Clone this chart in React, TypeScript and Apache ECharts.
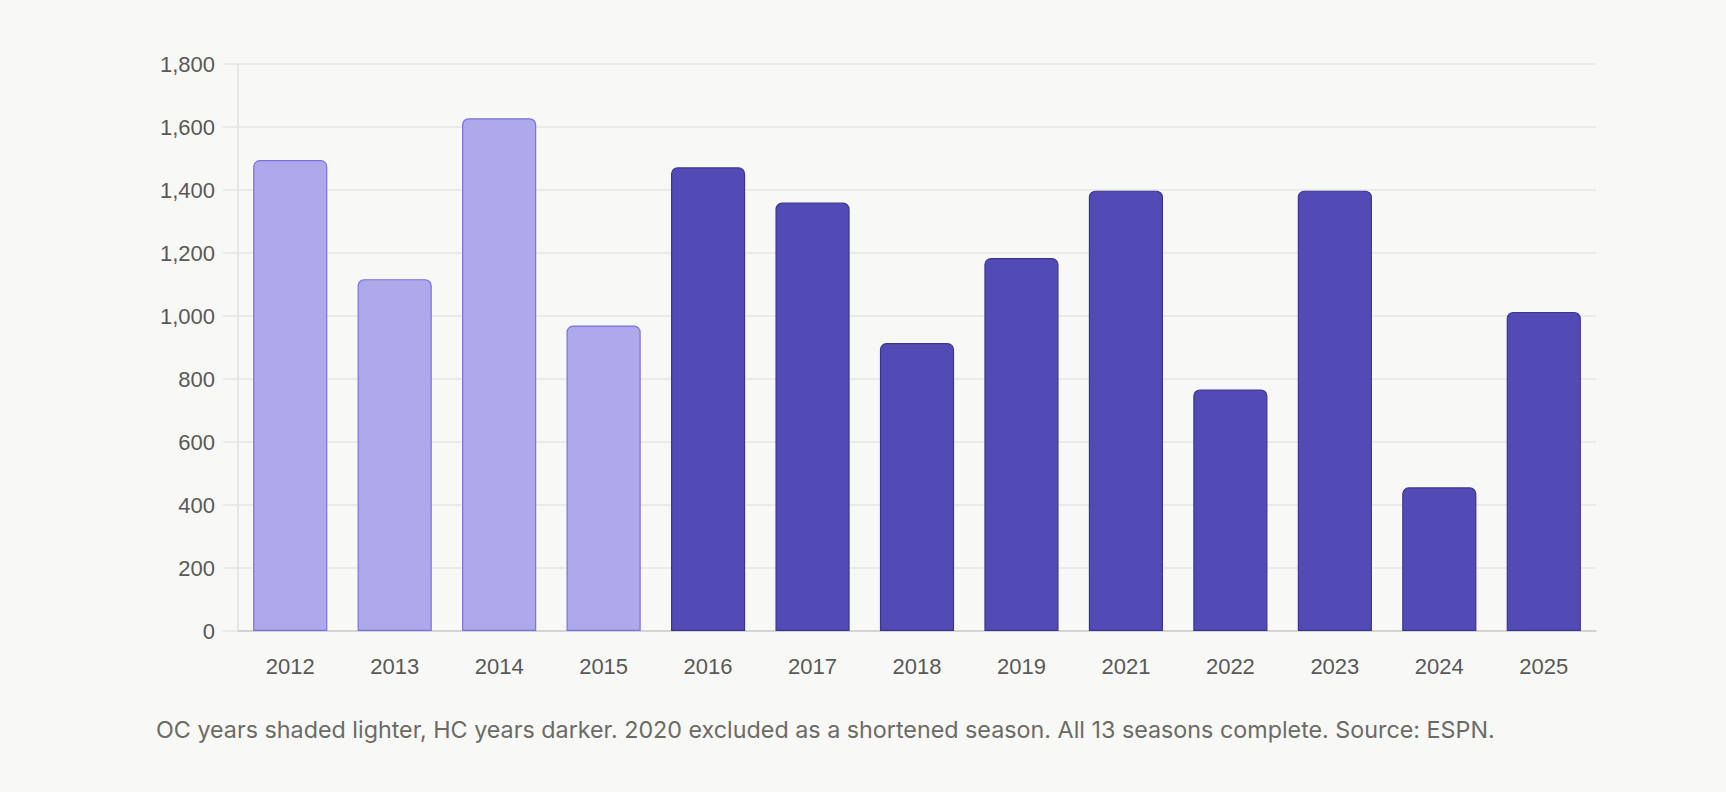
import React, { useEffect, useRef } from "react";
import * as echarts from "echarts";

const seasons = ["2012", "2013", "2014", "2015", "2016", "2017", "2018", "2019", "2021", "2022", "2023", "2024", "2025"];
const roles = ["OC", "OC", "OC", "OC", "HC", "HC", "HC", "HC", "HC", "HC", "HC", "HC", "HC"];
const yards = [1495, 1117, 1628, 970, 1472, 1360, 914, 1184, 1398, 767, 1398, 456, 1013];
const yTicks = [0, 200, 400, 600, 800, 1000, 1200, 1400, 1600, 1800];
const footnote =
  "OC years shaded lighter, HC years darker. 2020 excluded as a shortened season. All 13 seasons complete. Source: ESPN.";

const AXIS_FONT = "'Liberation Sans', Arial, Helvetica, sans-serif";
const NOTE_FONT = "Inter, 'Noto Sans', sans-serif";

export default function App() {
  const ref = useRef<HTMLDivElement>(null);
  useEffect(() => {
    if (!ref.current) return;
    const chart = echarts.init(ref.current, null, { renderer: "svg" });
    chart.setOption({
      animation: false,
      backgroundColor: "#f8f8f6",
      textStyle: { fontFamily: AXIS_FONT },
      grid: { left: 238, right: 130, top: 64, bottom: 161, containLabel: false },
      xAxis: {
        type: "category",
        data: seasons,
        axisLine: { show: true, lineStyle: { color: "#cccccc", width: 1.5 } },
        axisTick: { show: false },
        axisLabel: { color: "#595959", fontSize: 22, margin: 24, fontFamily: AXIS_FONT },
      },
      yAxis: {
        type: "value",
        min: yTicks[0],
        max: yTicks[yTicks.length - 1],
        interval: 200,
        axisLine: { show: true, lineStyle: { color: "#e0e0e0", width: 1.5 } },
        axisTick: { show: true, length: 15, lineStyle: { color: "#e6e6e4", width: 1.5 } },
        splitLine: { show: true, lineStyle: { color: "#e6e6e4", width: 1.5 } },
        axisLabel: {
          color: "#595959",
          fontSize: 22,
          margin: 23,
          fontFamily: AXIS_FONT,
          formatter: (v: number) => v.toLocaleString("en-US"),
        },
      },
      series: [
        {
          type: "bar",
          barCategoryGap: "29%",
          data: yards.map((v, i) => ({
            value: v,
            itemStyle:
              roles[i] === "OC"
                ? { color: "#afa8eb", borderColor: "#7c70e0", borderWidth: 1.2, borderRadius: [6, 6, 0, 0] }
                : { color: "#524bb6", borderColor: "#3b3491", borderWidth: 1.2, borderRadius: [6, 6, 0, 0] },
          })),
        },
      ],
      graphic: [
        {
          type: "text",
          x: 156,
          y: 729,
          style: {
            text: footnote,
            fontSize: 23.3,
            fontFamily: NOTE_FONT,
            fill: "#6b6b66",
            textVerticalAlign: "middle",
            verticalAlign: "middle",
          },
        },
      ],
    });
    return () => chart.dispose();
  }, []);
  return (
    <div
      ref={ref}
      style={{ position: "fixed", left: 0, top: 0, width: 1726, height: 792, background: "#f8f8f6" }}
    />
  );
}
